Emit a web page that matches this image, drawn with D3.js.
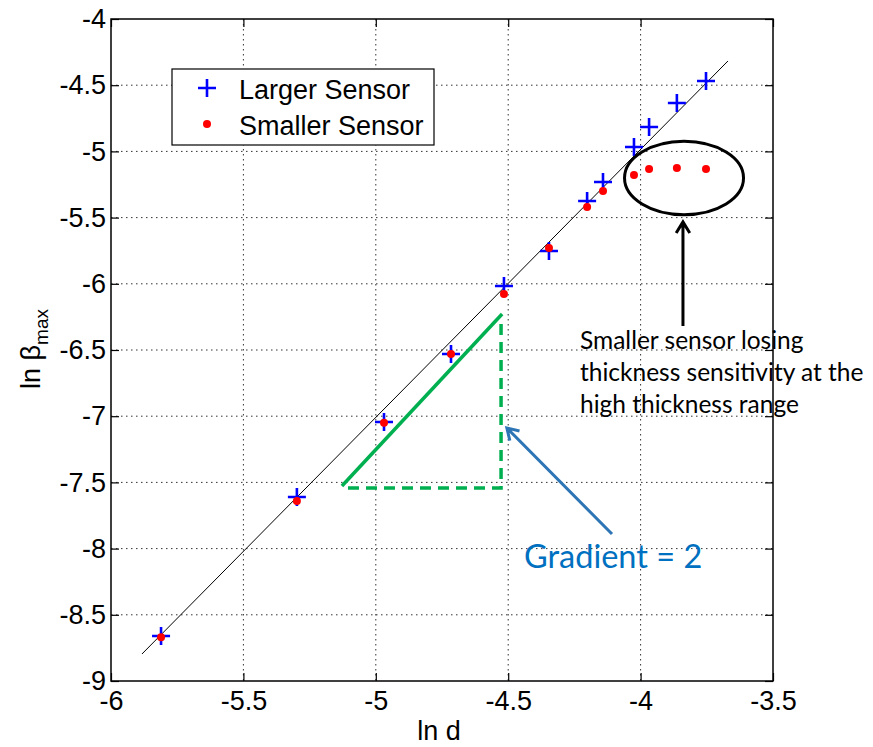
<!DOCTYPE html>
<html>
<head>
<meta charset="utf-8">
<script src="https://cdn.jsdelivr.net/npm/d3@7"></script>
<style>
  html, body { margin: 0; padding: 0; background: #fff; }
  svg { display: block; }
</style>
</head>
<body>
<svg id="chart" width="873" height="747"></svg>
<script>
// ln d values and ln(beta_max) for the two sensors
const lnD = [-5.811, -5.298, -4.969, -4.716, -4.516, -4.346, -4.202, -4.142, -4.025, -3.968, -3.863, -3.753];
const largerSensor = [-8.66, -7.61, -7.044, -6.53, -6.017, -5.752, -5.375, -5.231, -4.967, -4.816, -4.634, -4.468];
const smallerSensor = [-8.67, -7.64, -7.05, -6.53, -6.077, -5.73, -5.42, -5.299, -5.178, -5.133, -5.125, -5.133];

// axis ticks
const xTicks = [-6, -5.5, -5, -4.5, -4, -3.5];
const yTicks = [-4, -4.5, -5, -5.5, -6, -6.5, -7, -7.5, -8, -8.5, -9];

// reference line (slope ~2) endpoints
const fitLineX = [-5.883, -3.670];
const fitLineY = [-8.796, -4.317];

// gradient triangle: hypotenuse and the two legs
const gradHypX = [-5.128, -4.523];
const gradHypY = [-7.527, -6.228];
const gradLegX = [-5.105, -4.527, -4.527];
const gradLegY = [-7.542, -7.542, -6.296];

// ellipse around the saturated points, and the arrows
const ellipseCenter = [-3.836, -5.201];
const ellipseRadii = [0.2247, 0.277];
const blackArrowX = [-3.840, -3.840];
const blackArrowY = [-6.319, -5.533];
const blueArrowX = [-4.108, -4.505];
const blueArrowY = [-7.890, -7.089];

const noteLines = ["Smaller sensor losing", "thickness sensitivity at the", "high thickness range"];
const gradientLabel = "Gradient = 2";

const svg = d3.select("#chart");
const plotL = 111, plotR = 773, plotT = 19, plotB = 681;

const x = d3.scaleLinear().domain([-6, -3.5]).range([plotL, plotR]);
const y = d3.scaleLinear().domain([-9, -4]).range([plotB, plotT]);

const axisFont = "'Liberation Sans', Arial, sans-serif";

// grid
const grid = svg.append("g").attr("stroke", "#333").attr("stroke-width", 1).attr("stroke-dasharray", "1.5,3.5");
grid.selectAll(".gx").data(xTicks.slice(1, -1)).join("line")
  .attr("x1", d => x(d)).attr("x2", d => x(d)).attr("y1", plotT).attr("y2", plotB);
grid.selectAll(".gy").data(yTicks.slice(1, -1)).join("line")
  .attr("x1", plotL).attr("x2", plotR).attr("y1", d => y(d)).attr("y2", d => y(d));

// axes with inward ticks
const tickLen = 8;
const fmt = d => String(d);
svg.append("g").attr("transform", `translate(0,${plotB})`)
  .call(d3.axisBottom(x).tickValues(xTicks).tickSize(-tickLen).tickPadding(10).tickFormat(fmt))
  .call(g => g.select(".domain").remove());
svg.append("g").attr("transform", `translate(0,${plotT})`)
  .call(d3.axisTop(x).tickValues(xTicks).tickSize(-tickLen).tickFormat(""))
  .call(g => g.select(".domain").remove());
svg.append("g").attr("transform", `translate(${plotL},0)`)
  .call(d3.axisLeft(y).tickValues(yTicks).tickSize(-tickLen).tickPadding(5).tickFormat(fmt))
  .call(g => g.select(".domain").remove());
svg.append("g").attr("transform", `translate(${plotR},0)`)
  .call(d3.axisRight(y).tickValues(yTicks).tickSize(-tickLen).tickFormat(""))
  .call(g => g.select(".domain").remove());
svg.selectAll(".tick line").attr("stroke", "#000").attr("stroke-width", 1.2);
svg.selectAll(".tick text").attr("font-family", axisFont).attr("font-size", 27).attr("fill", "#000");

svg.append("rect").attr("x", plotL).attr("y", plotT).attr("width", plotR - plotL).attr("height", plotB - plotT)
  .attr("fill", "none").attr("stroke", "#000").attr("stroke-width", 1.5);

// axis labels
svg.append("text").attr("x", 439).attr("y", 740).attr("text-anchor", "middle")
  .attr("font-family", axisFont).attr("font-size", 27).text("ln d");
const yl = svg.append("text").attr("transform", "translate(40,349) rotate(-90)").attr("text-anchor", "middle")
  .attr("font-family", axisFont).attr("font-size", 27);
yl.append("tspan").text("ln β");
yl.append("tspan").attr("font-size", 19).attr("dy", 8).text("max");

// fit line
svg.append("line")
  .attr("x1", x(fitLineX[0])).attr("y1", y(fitLineY[0]))
  .attr("x2", x(fitLineX[1])).attr("y2", y(fitLineY[1]))
  .attr("stroke", "#000").attr("stroke-width", 1);

// gradient triangle
const green = "#00b050";
svg.append("line")
  .attr("x1", x(gradHypX[0])).attr("y1", y(gradHypY[0]))
  .attr("x2", x(gradHypX[1])).attr("y2", y(gradHypY[1]))
  .attr("stroke", green).attr("stroke-width", 3.5);
svg.append("path")
  .attr("d", d3.line().x(d => x(d[0])).y(d => y(d[1]))(gradLegX.map((v, i) => [v, gradLegY[i]])))
  .attr("fill", "none").attr("stroke", green).attr("stroke-width", 3.5).attr("stroke-dasharray", "11,7");

// markers
const pts = lnD.map((d, i) => ({ x: d, a: largerSensor[i], b: smallerSensor[i] }));
function drawPlus(g, cx, cy) {
  g.append("path").attr("d", `M${cx - 9},${cy}H${cx + 9}M${cx},${cy - 9}V${cy + 9}`)
    .attr("stroke", "#0000ff").attr("stroke-width", 2.6).attr("fill", "none");
}
const pg = svg.append("g");
pts.forEach(p => drawPlus(pg, x(p.x), y(p.a)));
svg.append("g").selectAll("circle").data(pts).join("circle")
  .attr("cx", d => x(d.x)).attr("cy", d => y(d.b)).attr("r", 4).attr("fill", "#ff0000");

// legend
const lg = svg.append("g");
lg.append("rect").attr("x", 172).attr("y", 69).attr("width", 262).attr("height", 76)
  .attr("fill", "#fff").attr("stroke", "#000").attr("stroke-width", 1.2);
drawPlus(lg, 207, 88);
lg.append("circle").attr("cx", 207).attr("cy", 124).attr("r", 4).attr("fill", "#ff0000");
lg.append("text").attr("x", 239).attr("y", 99).attr("font-family", axisFont).attr("font-size", 27).text("Larger Sensor");
lg.append("text").attr("x", 239).attr("y", 135).attr("font-family", axisFont).attr("font-size", 27).text("Smaller Sensor");

// ellipse
svg.append("ellipse")
  .attr("cx", x(ellipseCenter[0])).attr("cy", y(ellipseCenter[1]))
  .attr("rx", x(ellipseCenter[0] + ellipseRadii[0]) - x(ellipseCenter[0]))
  .attr("ry", y(ellipseCenter[1]) - y(ellipseCenter[1] + ellipseRadii[1]))
  .attr("fill", "none").attr("stroke", "#000").attr("stroke-width", 3);

// arrows with open heads
function arrow(xs, ys, color) {
  const x1 = x(xs[0]), y1 = y(ys[0]), x2 = x(xs[1]), y2 = y(ys[1]);
  const ang = Math.atan2(y2 - y1, x2 - x1);
  const L = 13, spread = 0.55;
  const p1 = [x2 - L * Math.cos(ang - spread), y2 - L * Math.sin(ang - spread)];
  const p2 = [x2 - L * Math.cos(ang + spread), y2 - L * Math.sin(ang + spread)];
  svg.append("path").attr("d", `M${x1},${y1}L${x2},${y2}M${p1[0]},${p1[1]}L${x2},${y2}L${p2[0]},${p2[1]}`)
    .attr("fill", "none").attr("stroke", color).attr("stroke-width", 3).attr("stroke-linejoin", "miter");
}
arrow(blackArrowX, blackArrowY, "#000");
arrow(blueArrowX, blueArrowY, "#2e75b6");

// annotation text
const noteFont = "Lato, 'Open Sans', sans-serif";
svg.append("g").selectAll("text").data(noteLines).join("text")
  .attr("x", 580).attr("y", (d, i) => 349 + i * 32)
  .attr("font-family", noteFont).attr("font-size", 24.5).attr("fill", "#000").text(d => d);
svg.append("text").attr("x", 524).attr("y", 568)
  .attr("font-family", noteFont).attr("font-size", 32.5).attr("fill", "#0070c0").text(gradientLabel);
</script>
</body>
</html>
